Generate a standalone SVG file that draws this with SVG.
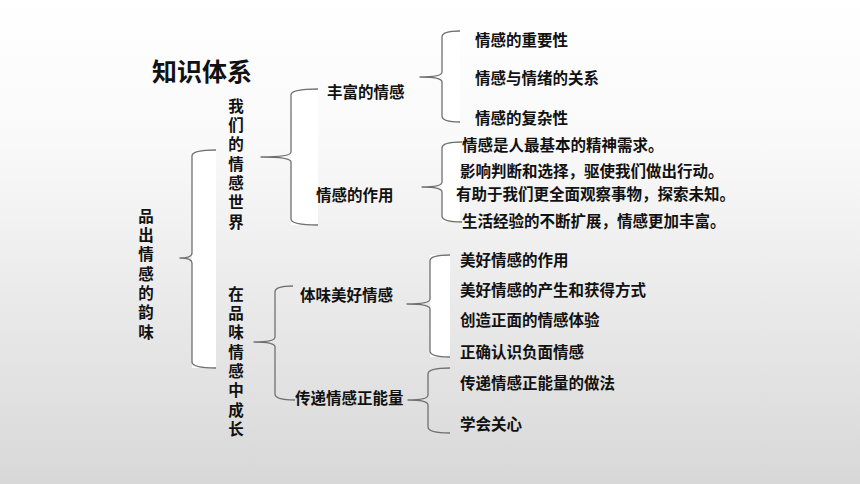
<svg xmlns="http://www.w3.org/2000/svg" width="860" height="484" viewBox="0 0 860 484">
<defs>
<linearGradient id="bg" x1="0" y1="0" x2="0" y2="1">
<stop offset="0" stop-color="#ffffff"/>
<stop offset="0.3" stop-color="#f9f9f9"/>
<stop offset="1" stop-color="#d8d8d8"/>
</linearGradient>
</defs>
<style>
text{font-family:"Noto Sans CJK SC","Noto Sans",sans-serif;font-weight:bold;fill:#111;font-size:15.5px;dominant-baseline:central}
.title{font-size:25px}
.vert{writing-mode:vertical-rl;text-orientation:upright;letter-spacing:3.8px}
.brace{fill:none;stroke:#707070;stroke-width:1.3;stroke-linejoin:round}
.pane{fill:#ffffff}
</style>
<rect x="0" y="0" width="860" height="484" fill="url(#bg)"/>
<g id="panes">
<rect class="pane" x="192" y="150" width="24" height="218"/>
<rect class="pane" x="291" y="89" width="27" height="136"/>
<rect class="pane" x="442" y="31" width="18" height="91"/>
<rect class="pane" x="442" y="142" width="18" height="80"/>
<rect class="pane" x="430" y="255" width="20" height="102"/>
</g>
<g id="connectors">
<path class="brace" d="M216,150 Q192,150 192,156 L192,253 Q192,258 180,258 Q192,258 192,263 L192,362 Q192,368 216,368"/>
<path class="brace" d="M318,89 Q291,89 291,95 L291,152 Q291,157 261,157 Q291,157 291,162 L291,219 Q291,225 318,225"/>
<path class="brace" d="M460,31 Q442,31 442,37 L442,72 Q442,77 420,77 Q442,77 442,82 L442,116 Q442,122 460,122"/>
<path class="brace" d="M462,142 Q442,142 442,148 L442,182 Q442,187 422,187 Q442,187 442,192 L442,216 Q442,222 462,222"/>
<path class="brace" d="M293,286 Q275,286 275,292 L275,337 Q275,342 254,342 Q275,342 275,347 L275,394 Q275,400 295,400"/>
<path class="brace" d="M450,255 Q430,255 430,261 L430,299 Q430,304 407,304 Q430,304 430,309 L430,351 Q430,357 450,357"/>
<path class="brace" d="M450,368 Q428,368 428,374 L428,395 Q428,400 408,400 Q428,400 428,405 L428,427 Q428,433 450,433"/>
</g>
<g id="title"><text class="title" x="152" y="70">知识体系</text></g>
<g id="root"><text class="vert" x="146" y="208.2">品出情感的韵味</text></g>
<g id="n-world"><text class="vert" x="236" y="98.2">我们的情感世界</text></g>
<g id="n-grow"><text class="vert" x="236" y="286.2">在品味情感中成长</text></g>
<g id="n-rich"><text x="327" y="91">丰富的情感</text></g>
<g id="n-role"><text x="316" y="194">情感的作用</text></g>
<g id="n-rich-items">
<text x="475" y="39">情感的重要性</text>
<text x="475" y="77">情感与情绪的关系</text>
<text x="475" y="117">情感的复杂性</text>
</g>
<g id="n-role-items">
<text x="462" y="144">情感是人最基本的精神需求。</text>
<text x="460" y="170">影响判断和选择，驱使我们做出行动。</text>
<text x="456" y="193">有助于我们更全面观察事物，探索未知。</text>
<text x="462" y="220">生活经验的不断扩展，情感更加丰富。</text>
</g>
<g id="n-taste"><text x="300" y="294">体味美好情感</text></g>
<g id="n-pass"><text x="295" y="397">传递情感正能量</text></g>
<g id="n-taste-items">
<text x="460" y="259">美好情感的作用</text>
<text x="460" y="289">美好情感的产生和获得方式</text>
<text x="460" y="319">创造正面的情感体验</text>
<text x="460" y="351">正确认识负面情感</text>
</g>
<g id="n-pass-items">
<text x="460" y="382">传递情感正能量的做法</text>
<text x="460" y="423">学会关心</text>
</g>
</svg>
